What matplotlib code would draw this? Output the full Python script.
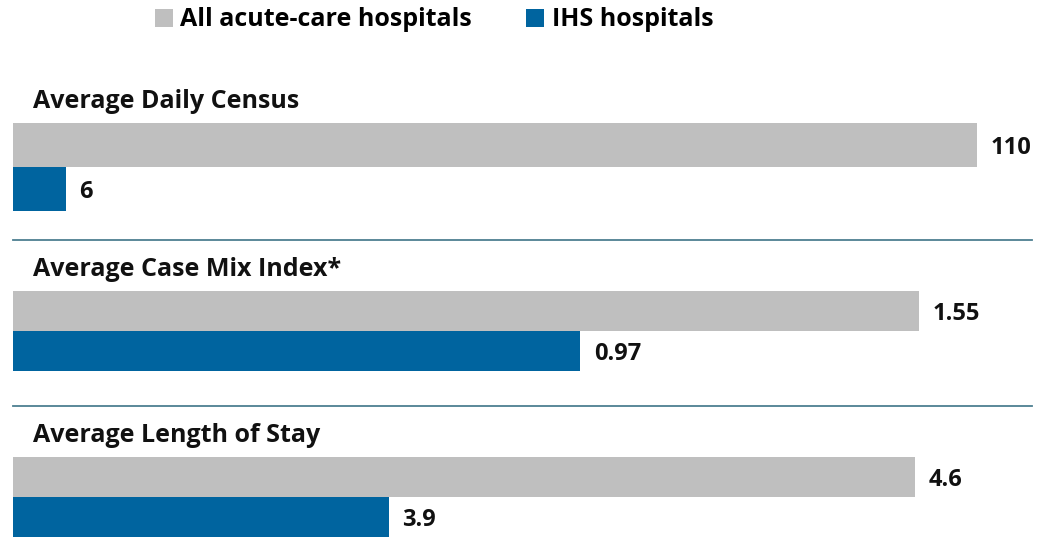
import matplotlib
matplotlib.use("Agg")
import matplotlib.pyplot as plt
from matplotlib.lines import Line2D

# ---- data ----
metrics = ["Average Daily Census", "Average Case Mix Index*", "Average Length of Stay"]
all_acute = [110, 1.55, 4.6]
ihs = [6, 0.97, 3.9]
value_labels_all = ["110", "1.55", "4.6"]
value_labels_ihs = ["6", "0.97", "3.9"]
series_names = ["All acute-care hospitals", "IHS hospitals"]

# ---- style ----
W, H = 1037, 537
GRAY = "#bfbfbf"
BLUE = "#00649f"
LINE = "#4d7f91"
FONT = ["Open Sans", "DejaVu Sans"]
plt.rcParams["font.family"] = FONT
TXT = "#111111"
FS_LAB = 17
FS_TITLE = 18

fig = plt.figure(figsize=(W / 100, H / 100), dpi=100)
fig.patch.set_facecolor("white")

def px_axes(x0, y_top, w, y_bot):
    return fig.add_axes([x0 / W, 1 - y_bot / H, w / W, (y_bot - y_top) / H])

# panel geometry (pixel rows of bars) and axis limits
panels = [
    dict(top=123, bot=211, xlim=(0, 116.85), title_base=108),
    dict(top=291, bot=371, xlim=(0, 1.752), title_base=276),
    dict(top=457, bot=537, xlim=(3.40, 4.763), title_base=442),
]

for i, p in enumerate(panels):
    ax = px_axes(13, p["top"], 1024, p["bot"])
    x0 = p["xlim"][0]
    b1 = ax.barh([1], [all_acute[i] - x0], left=x0, height=1.0, color=GRAY)
    b2 = ax.barh([0], [ihs[i] - x0], left=x0, height=1.0, color=BLUE)
    ax.set_xlim(*p["xlim"])
    ax.set_ylim(-0.5, 1.5)
    ax.axis("off")
    ax.annotate(value_labels_all[i], xy=(all_acute[i], 1), xytext=(10, -2.5),
                textcoords="offset points", va="center", ha="left",
                fontsize=FS_LAB, fontweight="bold", color=TXT,
                annotation_clip=False)
    ax.annotate(value_labels_ihs[i], xy=(ihs[i], 0), xytext=(10, -2),
                textcoords="offset points", va="center", ha="left",
                fontsize=FS_LAB, fontweight="bold", color=TXT,
                annotation_clip=False)
    fig.text(33 / W, 1 - p["title_base"] / H, metrics[i], fontsize=FS_TITLE,
             fontweight="bold", va="baseline", ha="left", color=TXT)
    if i == 0:
        handles = [b1[0], b2[0]]

# dividers
for y in (240, 406):
    fig.add_artist(Line2D([13 / W, 1032 / W], [1 - y / H, 1 - y / H],
                          color=LINE, lw=1.3, transform=fig.transFigure))

# legend
fig.legend(handles, series_names, loc="center left",
           bbox_to_anchor=(155 / W, 1 - 20 / H), ncol=2, frameon=False,
           prop=dict(weight="bold", size=FS_TITLE),
           handlelength=0.72, handleheight=0.72, handletextpad=0.3,
           columnspacing=2.15, borderpad=0, borderaxespad=0)

fig.savefig("out.png", dpi=100, facecolor="white")
